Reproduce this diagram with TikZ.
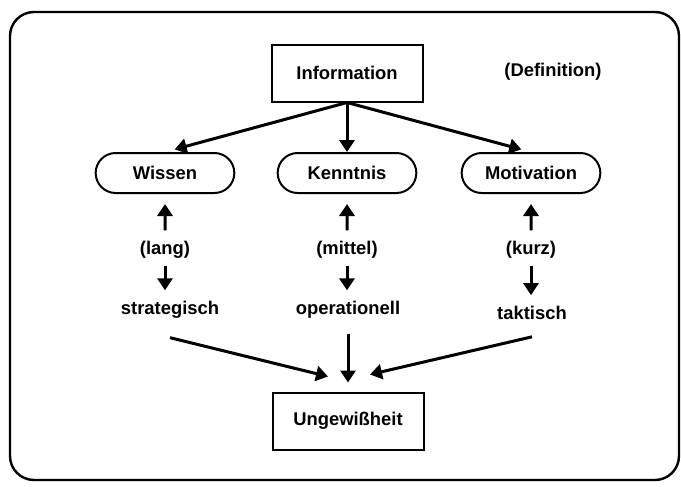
\documentclass[tikz,border=0pt]{standalone}
\usepackage{fontspec}
\setmainfont{Liberation Sans}
\usetikzlibrary{arrows.meta,shapes.misc}
\begin{document}
\begin{tikzpicture}[x=0.5pt,y=-0.5pt,
		font=\fontsize{9.2}{11}\selectfont\bfseries,
		kasten/.style={draw, line width=1pt, minimum width=75.5pt, minimum height=28.5pt},
		pille/.style={draw, rounded rectangle, line width=1pt, minimum width=76pt, minimum height=20pt},
		pfeil/.style={line width=1.5pt, -{Triangle[length=6pt,width=7.5pt]}}]
		\useasboundingbox (0,0) rectangle (681,487);
		\draw[line width=1.2pt, rounded corners=12pt] (10,12) rectangle (679,480);

		\node[kasten] (info) at (347,73) {Information};
		\node (defin) at (553,72) {(Definition)};

		\node[pille] (wissen) at (165,173) {Wissen};
		\node[pille] (kenntnis) at (347,173) {Kenntnis};
		\node[pille] (motiv) at (531,173) {Motivation};

		\node (lang) at (165,250) {(lang)};
		\node (mittel) at (347,250) {(mittel)};
		\node (kurz) at (531,250) {(kurz)};

		\node (strat) at (170,310) {strategisch};
		\node (opera) at (348,310) {operationell};
		\node (takt) at (532,313) {taktisch};

		\node[kasten] (unge) at (348,421) {Ungewißheit};

		\draw[pfeil, shorten >=5pt] (info.south) -- (wissen.north);
		\draw[pfeil] (info.south) -- (kenntnis.north);
		\draw[pfeil, shorten >=5pt] (info.south) -- (motiv.north);

		\draw[pfeil, shorten <=2pt, shorten >=5pt] (lang) -- (wissen);
		\draw[pfeil, shorten <=2pt, shorten >=5pt] (mittel) -- (kenntnis);
		\draw[pfeil, shorten <=2pt, shorten >=5pt] (kurz) -- (motiv);

		\draw[pfeil, shorten >=2pt] (lang.south) -- (lang |- strat.north);
		\draw[pfeil, shorten >=2pt] (mittel.south) -- (mittel |- opera.north);
		\draw[pfeil, shorten >=2pt] (kurz.south) -- (kurz |- takt.north);

		\draw[pfeil] ([yshift=-6pt]strat.south) -- ([xshift=-10pt,yshift=7.5pt]unge.north);
		\draw[pfeil, shorten <=4pt, shorten >=4.5pt] (opera.south) -- (unge.north);
		\draw[pfeil] ([yshift=-5pt]takt.south) -- ([xshift=11pt,yshift=8.5pt]unge.north);
	\end{tikzpicture}
\end{document}
